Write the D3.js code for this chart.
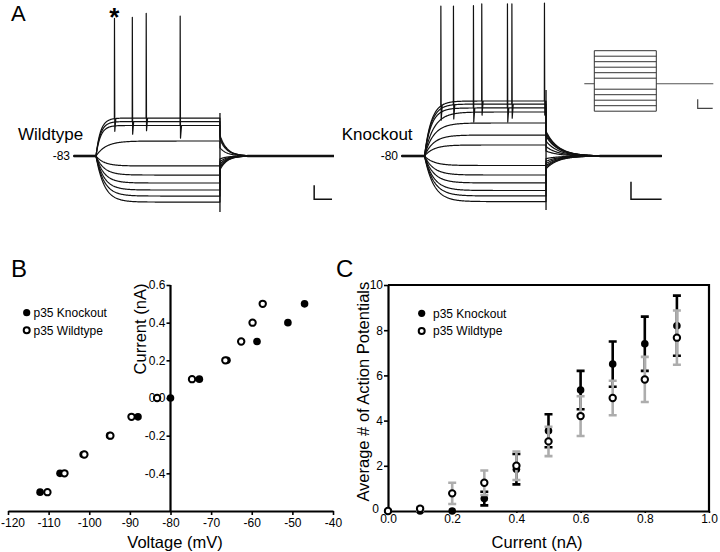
<!DOCTYPE html>
<html><head><meta charset="utf-8">
<script src="https://cdn.jsdelivr.net/npm/d3@7"></script>
<style>body{margin:0;background:#fff}svg{display:block}</style>
</head><body><svg id="c" width="720" height="552"></svg>
<script>
// ---------- Panel B : I-V data ----------
const ivCurrent  = [-0.5,-0.4,-0.3,-0.2,-0.1,0,0.1,0.2,0.3,0.4,0.5];
const ivKnockout = [-112.1,-107.2,-101.5,-95.0,-88.0,-80.0,-72.9,-66.1,-58.7,-51.1,-47.0];
const ivWildtype = [-110.3,-106.1,-101.2,-94.8,-89.6,-83.3,-74.7,-66.5,-62.6,-59.8,-57.3];
const ivXTicks = [-120,-110,-100,-90,-80,-70,-60,-50,-40];
const ivYTicks = [-0.4,-0.2,0,0.2,0.4,0.6];

// ---------- Panel C : action potential counts ----------
const apCurrent      = [0,0.1,0.2,0.3,0.4,0.5,0.6,0.7,0.8,0.9];
const apKnockoutMean = [0,0,0,0.55,1.85,3.55,5.35,6.5,7.4,8.2];
const apKnockoutErr  = [0,0,0,0.3,0.67,0.73,0.85,1.0,1.2,1.33];
const apWildtypeMean = [0,0.1,0.78,1.25,2.0,3.08,4.2,5.0,5.82,7.67];
const apWildtypeErr  = [0,0.08,0.47,0.54,0.63,0.65,0.88,0.76,1.0,1.2];
const apXTicks = [0,0.2,0.4,0.6,0.8,1.0];
const apYTicks = [0,2,4,6,8,10];

// ---------- Panel A : current-clamp traces (mV, ms) ----------
const wtRest = -83, koRest = -80;
const wtLevels = [-55.9,-58.4,-61.2,-72.3,-90.1,-96.6,-102.3,-107.3,-111.6,-115.9];
const wtSpikes = [[74,202],[146],[339],[],[],[],[],[],[],[]];
const wtPeaks  = [[15.4,18.9],[16.1],[17],[],[],[],[],[],[],[]];
const koLevels = [-48.75,-50.5,-52.7,-55,-61.25,-68.1,-73.75,-85.4,-90.8,-95.3,-99.6,-102.7,-105.9];
const koSpikes = [[66.7,235,493],[118.5,359],[200.8,340.7],[],[],[],[],[],[],[],[],[],[]];
const koPeaks  = [[5.2,6.4,6.9],[5.2,6.4],[5.4,6.4],[],[],[],[],[],[],[],[],[],[]];
const stimSteps = [-0.5,-0.4,-0.3,-0.2,-0.1,0.1,0.2,0.3,0.4,0.5,0.6];

const FONT = '"Liberation Sans", Arial, Helvetica, sans-serif';
const svg = d3.select("#c");
svg.append("rect").attr("width",720).attr("height",552).attr("fill","#fff");

function txt(x,y,s,fs,anchor,extra){
  const t = svg.append("text").attr("x",x).attr("y",y).text(s)
    .attr("font-family",FONT).attr("font-size",fs).attr("fill","#000")
    .attr("text-anchor",anchor||"start");
  if(extra) extra(t);
  return t;
}

// ================= PANEL A =================
function drawCell(cfg){
  const x = d3.scaleLinear().domain([cfg.t0,cfg.t1]).range(cfg.xr);
  const y = d3.scaleLinear().domain([cfg.rest, cfg.rest+100]).range([cfg.y0, cfg.y0-100*cfg.pxPerMv]);
  const line = d3.line().x(d=>x(d[0])).y(d=>y(d[1]));
  const g = svg.append("g");
  cfg.levels.forEach((lev,i)=>{
    const dep = lev>cfg.rest;
    const tau = dep ? (cfg.spikes[i].length ? cfg.tauSpk : cfg.tauSub) : cfg.tauHyp;
    const v500 = cfg.rest+(lev-cfg.rest)*(1-Math.exp(-500/tau));
    const jump = dep ? cfg.jumpDep : cfg.jumpHyp;
    const f = t => t<0 ? cfg.rest : (t<=500 ? cfg.rest+(lev-cfg.rest)*(1-Math.exp(-t/tau))
                     : cfg.rest+(v500-cfg.rest)*jump*Math.exp(-(t-500)/cfg.tauOff));
    const sp = cfg.spikes[i];
    let pts = [];
    for(let t=cfg.t0;t<=cfg.t1;t+=2){
      if(sp.some(s=>t>s && t<s+6)) continue;
      if(t===500) continue;
      pts.push([t,f(t)]);
    }
    pts.push([500,v500]); pts.push([500.01,f(500.01)]);
    sp.forEach((s,k)=>{
      pts.push([s,f(s)],[s+0.5,cfg.peaks[i][k]],[s+1.8,f(s)-cfg.ahp],[s+6,f(s+6)]);
    });
    pts.sort((a,b)=>a[0]-b[0]);
    g.append("path").attr("d",line(pts)).attr("fill","none").attr("stroke","#111")
      .attr("stroke-width",1.2).attr("stroke-linejoin","round");
  });
  g.append("path").attr("d",line([[cfg.t0,cfg.rest],[0,cfg.rest]])).attr("stroke","#111").attr("stroke-width",2.6);
  g.append("path").attr("d",line([[cfg.conv,cfg.rest],[cfg.t1,cfg.rest]])).attr("stroke","#111").attr("stroke-width",2.6);
  g.append("path").attr("d",line([[500,cfg.artifact[0]],[500,cfg.artifact[1]]])).attr("stroke","#111").attr("stroke-width",1.3);
  const sb = cfg.bar;
  g.append("path").attr("d",line([[sb.t,sb.v+sb.mv],[sb.t,sb.v],[sb.t+sb.ms,sb.v]]))
    .attr("fill","none").attr("stroke","#111").attr("stroke-width",1.5);
  return {x,y};
}

drawCell({t0:-90,t1:960,xr:[73.7,334],rest:wtRest,y0:156,pxPerMv:1.4,levels:wtLevels,spikes:wtSpikes,peaks:wtPeaks,
  tauSpk:18,tauSub:40,tauHyp:33,tauOff:28,jumpDep:0.55,jumpHyp:0.3,ahp:9,artifact:[-52.3,-123],conv:610,
  bar:{t:880,v:-113.9,mv:10,ms:72}});
drawCell({t0:-94,t1:976,xr:[401.7,661.7],rest:koRest,y0:156,pxPerMv:1.76,levels:koLevels,spikes:koSpikes,peaks:koPeaks,
  tauSpk:28,tauSub:38,tauHyp:38,tauOff:50,jumpDep:0.45,jumpHyp:0.28,ahp:8,artifact:[-42.5,-110.7],conv:720,
  bar:{t:849.6,v:-104.6,mv:10,ms:126}});

// stimulus inset
(function(){
  const x = d3.scaleLinear().domain([-100,1020]).range([584.3,713.3]);
  const y = d3.scaleLinear().domain([0,0.6]).range([83.7,50.7]);
  const g = svg.append("g");
  const tOn = x.invert(594.3), tOff = x.invert(656.3);
  g.append("line").attr("x1",x(-100)).attr("x2",x(tOn)).attr("y1",y(0)).attr("y2",y(0)).attr("stroke","#555").attr("stroke-width",1.1);
  g.append("line").attr("x1",x(tOff)).attr("x2",x(1020)).attr("y1",y(0)).attr("y2",y(0)).attr("stroke","#555").attr("stroke-width",1.1);
  stimSteps.forEach(s=>{
    g.append("line").attr("x1",x(tOn)).attr("x2",x(tOff)).attr("y1",y(s)).attr("y2",y(s)).attr("stroke","#333").attr("stroke-width",1);
  });
  const ext = d3.extent(stimSteps);
  [tOn,tOff].forEach(t=>g.append("line").attr("x1",x(t)).attr("x2",x(t)).attr("y1",y(ext[0])).attr("y2",y(ext[1])).attr("stroke","#333").attr("stroke-width",1));
  g.append("path").attr("d",`M697.7,99.3V108.3H712.7`).attr("fill","none").attr("stroke","#444").attr("stroke-width",1.2);
})();

txt(11,21,"A",22);
txt(18,140,"Wildtype",17);
txt(341.7,140,"Knockout",17);
txt(70,160,"-83",12,"end");
txt(398,160,"-80",12,"end");
txt(114.3,26,"*",26,"middle",t=>t.attr("font-weight","bold"));

// ================= PANEL B =================
(function(){
  const x = d3.scaleLinear().domain([-120,-40]).range([8,333]);
  const y = d3.scaleLinear().domain([-0.6,0.6]).range([511,285]);
  const gx = svg.append("g").attr("transform",`translate(0,${y(-0.6)})`)
    .call(d3.axisBottom(x).tickValues(ivXTicks).tickSize(4).tickSizeOuter(0).tickFormat(d=>String(d)));
  const gy = svg.append("g").attr("transform",`translate(${x(-80)},0)`)
    .call(d3.axisLeft(y).tickValues(ivYTicks).tickSize(4).tickPadding(1).tickSizeOuter(0).tickFormat(d=>d.toFixed(1)));
  [gx,gy].forEach(g=>{g.attr("font-family",FONT).attr("font-size",12);
    g.select(".domain").attr("stroke-width",2.2).attr("stroke","#000");
    g.selectAll(".tick line").attr("stroke-width",1.6).attr("stroke","#000");
    g.selectAll(".tick text").attr("fill","#000");});
  gx.selectAll(".tick text").filter(d=>d===-120).attr("text-anchor","start").attr("x",-x(-120)+0.5);
  gy.select(".domain").attr("d",`M0,${y(0.6)}V${y(-0.6)}`);
  svg.append("g").selectAll("circle").data(ivCurrent).join("circle")
    .attr("cx",(d,i)=>x(ivKnockout[i])).attr("cy",d=>y(d)).attr("r",3.8).attr("fill","#000");
  svg.append("g").selectAll("circle").data(ivCurrent).join("circle")
    .attr("cx",(d,i)=>x(ivWildtype[i])).attr("cy",d=>y(d)).attr("r",3.2).attr("fill","#fff").attr("stroke","#000").attr("stroke-width",2);
  svg.append("circle").attr("cx",26.7).attr("cy",312.7).attr("r",3.6).attr("fill","#000");
  svg.append("circle").attr("cx",26.7).attr("cy",330.3).attr("r",3.0).attr("fill","#fff").attr("stroke","#000").attr("stroke-width",2);
  txt(33.5,317,"p35 Knockout",12);
  txt(33.5,334.6,"p35 Wildtype",12);
  txt(175,548,"Voltage (mV)",16.5,"middle");
  txt(146,329,"Current (nA)",16.5,"middle",t=>t.attr("transform","rotate(-90,146,329)"));
  txt(11,277,"B",24);
})();

// ================= PANEL C =================
(function(){
  const x = d3.scaleLinear().domain([0,1]).range([388,709]);
  const y = d3.scaleLinear().domain([0,10]).range([511,285]);
  const gx = svg.append("g").attr("transform",`translate(0,${y(0)})`)
    .call(d3.axisBottom(x).tickValues(apXTicks).tickSize(2).tickPadding(1).tickSizeOuter(0).tickFormat(d=>d.toFixed(1)));
  const gy = svg.append("g").attr("transform",`translate(${x(0)},0)`)
    .call(d3.axisLeft(y).tickValues(apYTicks).tickSize(4).tickPadding(1).tickSizeOuter(0).tickFormat(d=>String(d)));
  [gx,gy].forEach(g=>{g.attr("font-family",FONT).attr("font-size",12);
    g.select(".domain").attr("stroke-width",2.2).attr("stroke","#000");
    g.selectAll(".tick line").attr("stroke-width",1.6).attr("stroke","#000");
    g.selectAll(".tick text").attr("fill","#000");});
  gy.selectAll(".tick text").filter(d=>d===0).attr("dy","0.1em").attr("x",-9);
  svg.append("path").attr("d",`M${x(0)},${y(10)}H${x(1)}V${y(0)}`).attr("fill","none").attr("stroke","#000").attr("stroke-width",2.2);

  function bars(mean,err,color){
    const g = svg.append("g").attr("stroke",color).attr("stroke-width",2.6).attr("fill","none");
    apCurrent.forEach((c,i)=>{
      if(!err[i]) return;
      const cx = x(c), y1 = y(mean[i]-err[i]), y2 = y(mean[i]+err[i]);
      g.append("path").attr("d",`M${cx},${y1}V${y2}M${cx-4},${y1}H${cx+4}M${cx-4},${y2}H${cx+4}`);
    });
  }
  bars(apKnockoutMean,apKnockoutErr,"#000");
  svg.append("g").selectAll("circle").data(apCurrent).join("circle")
    .attr("cx",d=>x(d)).attr("cy",(d,i)=>y(apKnockoutMean[i])).attr("r",3.8).attr("fill","#000");
  bars(apWildtypeMean,apWildtypeErr,"#adadad");
  svg.append("g").selectAll("circle").data(apCurrent).join("circle")
    .attr("cx",d=>x(d)).attr("cy",(d,i)=>y(apWildtypeMean[i])).attr("r",3.2).attr("fill","#fff").attr("stroke","#000").attr("stroke-width",2);
  svg.append("circle").attr("cx",421.7).attr("cy",313.3).attr("r",3.6).attr("fill","#000");
  svg.append("circle").attr("cx",421.7).attr("cy",331).attr("r",3.0).attr("fill","#fff").attr("stroke","#000").attr("stroke-width",2);
  txt(433,317.6,"p35 Knockout",12);
  txt(433,335.3,"p35 Wildtype",12);
  txt(537,548,"Current (nA)",16.5,"middle");
  txt(369.5,391.7,"Average # of Action Potentials",16.5,"middle",t=>t.attr("transform","rotate(-90,369.5,391.7)"));
  txt(336,277,"C",24);
})();
</script></body></html>
